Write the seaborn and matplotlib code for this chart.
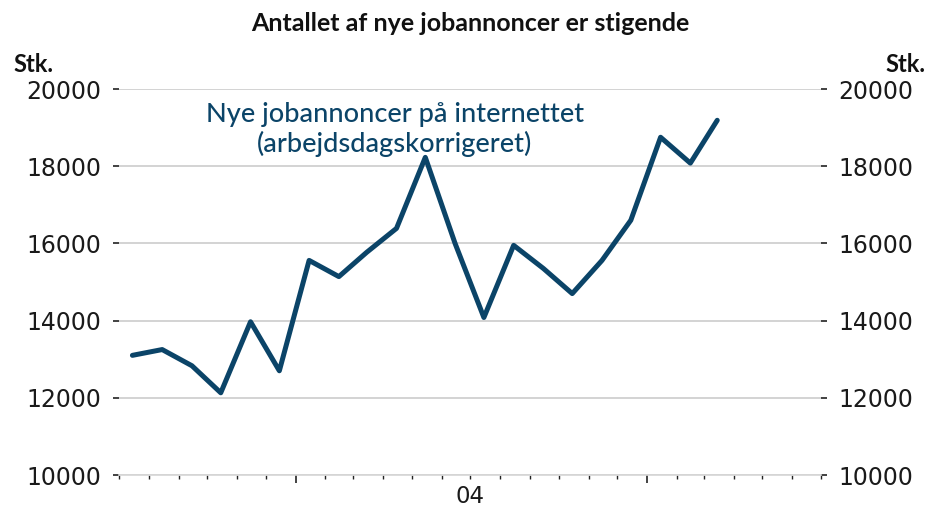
import pandas as pd
import seaborn as sns
import matplotlib.pyplot as plt
import matplotlib.dates as mdates

# --- DATA ---
months = pd.period_range('2003-07', '2005-03', freq='M')
job_ads = [13100, 13250, 12830, 12130, 13970, 12700, 15560, 15140, 15770, 16390,
           18230, 16000, 14080, 15950, 15350, 14700, 15560, 16600, 18750, 18080, 19190]
y_ticks = [10000, 12000, 14000, 16000, 18000, 20000]
year_label = '04'

title = 'Antallet af nye jobannoncer er stigende'
series_label = ['Nye jobannoncer på internettet', '(arbejdsdagskorrigeret)']
unit = 'Stk.'

NAVY = '#0b4468'

# mid-month position for each observation
df = pd.DataFrame({
    'date': months.to_timestamp(how='start') + pd.Timedelta(days=14),
    'value': job_ads,
})

sns.set_theme(style='white')
plt.rcParams['font.family'] = ['DejaVu Sans']

fig = plt.figure(figsize=(9.42, 5.08), dpi=100)
ax = fig.add_axes([0.1263, 0.06496, 0.7452, 0.7598])

sns.lineplot(data=df, x='date', y='value', color=NAVY, linewidth=3.6, ax=ax)

# axes limits / ticks
ax.set_xlim(pd.Timestamp('2003-07-01'), pd.Timestamp('2005-07-01'))
ax.set_ylim(y_ticks[0], y_ticks[-1])
ax.set_yticks(y_ticks)
ax.set_xlabel('')
ax.set_ylabel('')

ax.xaxis.set_major_locator(mdates.YearLocator())
ax.xaxis.set_minor_locator(mdates.MonthLocator())
ax.xaxis.set_major_formatter(plt.NullFormatter())
ax.tick_params(axis='x', which='major', direction='out', length=6, width=1.2,
               color='#222222', bottom=True)
ax.tick_params(axis='x', which='minor', direction='out', length=3, width=1.0,
               color='#222222', bottom=True)
ax.tick_params(axis='y', which='major', direction='out', length=4.5, width=1.3,
               color='#333333', left=True, right=True, labelleft=True,
               labelright=True, labelsize=17, labelcolor='#1a1a1a', pad=8)

ax.grid(axis='y', color='#c8c8c8', linewidth=1.1)
ax.grid(axis='x', visible=False)
for side in ['left', 'right', 'top']:
    ax.spines[side].set_visible(False)
ax.spines['bottom'].set_color('#d6d6d6')
ax.spines['bottom'].set_linewidth(1.2)

# year label centred in 2004
ax.annotate(year_label, xy=(pd.Timestamp('2004-07-01'), 0),
            xycoords=('data', 'axes fraction'), xytext=(0, -7.5),
            textcoords='offset points', ha='center', va='top',
            fontsize=16.5, color='#1a1a1a')

# texts
fig.text(470 / 942, 1 - 31 / 508, title, ha='center', va='baseline',
         fontsize=18, fontweight='bold', family='Lato', color='#111111')
fig.text(13 / 942, 1 - 72 / 508, unit, ha='left', va='baseline',
         fontsize=17, fontweight='bold', family='Lato', color='#111111')
fig.text(925 / 942, 1 - 72 / 508, unit, ha='right', va='baseline',
         fontsize=17, fontweight='bold', family='Lato', color='#111111')
fig.text(395 / 942, 1 - 122 / 508, series_label[0], ha='center', va='baseline',
         fontsize=19.5, fontweight='medium', family='Lato', color=NAVY)
fig.text(395 / 942, 1 - 152 / 508, series_label[1], ha='center', va='baseline',
         fontsize=19.5, fontweight='medium', family='Lato', color=NAVY)

plt.savefig('out.png', dpi=100)
